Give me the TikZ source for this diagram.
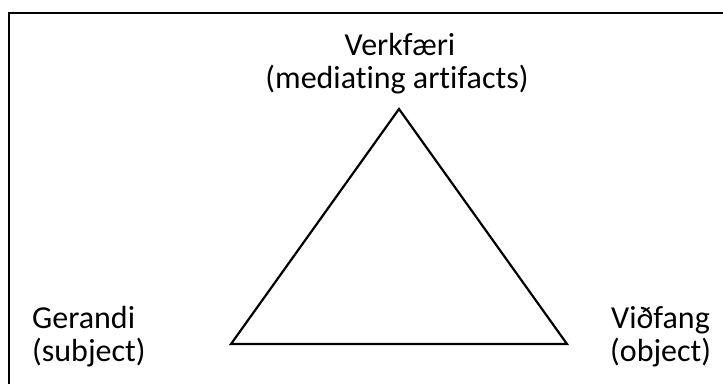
\documentclass[tikz,border=0pt]{standalone}
\usepackage{fontspec}
\setmainfont[Ligatures={NoCommon}]{Carlito}
\begin{document}
\begin{tikzpicture}[x=1pt,y=-1pt,
  lbl/.style={inner sep=0pt,font=\fontsize{32}{33}\selectfont},
  edge/.style={draw=black,line width=2.2pt,line join=miter}]
\useasboundingbox (0,0) rectangle (723,383);
\draw[line width=2.2pt] (9,390) -- (9,13) -- (730,13);
\coordinate (top) at (399,109);
\coordinate (left) at (231,344);
\coordinate (right) at (567,344);
\draw[edge] (top) -- (left) -- (right) -- cycle;
\node[lbl,anchor=base] (t1) at (400,55) {Verkfæri};
\node[lbl,anchor=base] (t2) at (397,88) {(mediating artifacts)};
\node[lbl,anchor=base west] (l1) at (32,328) {Gerandi};
\node[lbl,anchor=base west] (l2) at (32,361) {(subject)};
\node[lbl,anchor=base west] (r1) at (611,328) {Viðfang};
\node[lbl,anchor=base west] (r2) at (610,361) {(object)};
\end{tikzpicture}
\end{document}
